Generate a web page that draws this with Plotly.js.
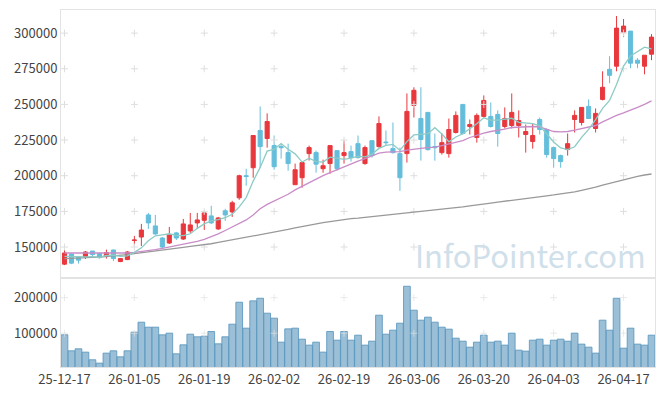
<!DOCTYPE html>
<html>
<head>
<meta charset="utf-8">
<script src="https://cdn.plot.ly/plotly-3.0.1.min.js"></script>
<style>
html,body{margin:0;padding:0;background:#fff;}
#chart{width:665px;height:396px;}
</style>
</head>
<body>
<div id="chart"></div>
<script>
const dates = ['25-12-17','25-12-18','25-12-19','25-12-22','25-12-23','25-12-24','25-12-26','25-12-29','25-12-30',
'26-01-02','26-01-05','26-01-06','26-01-07','26-01-08','26-01-09','26-01-12','26-01-13','26-01-14','26-01-15','26-01-16','26-01-19','26-01-20','26-01-21','26-01-22','26-01-23','26-01-26','26-01-27','26-01-28','26-01-29','26-01-30',
'26-02-02','26-02-03','26-02-04','26-02-05','26-02-06','26-02-09','26-02-10','26-02-11','26-02-12','26-02-13','26-02-19','26-02-20','26-02-23','26-02-24','26-02-25','26-02-26','26-02-27',
'26-03-03','26-03-04','26-03-05','26-03-06','26-03-09','26-03-10','26-03-11','26-03-12','26-03-13','26-03-16','26-03-17','26-03-18','26-03-19','26-03-20','26-03-23','26-03-24','26-03-25','26-03-26','26-03-27','26-03-30','26-03-31',
'26-04-01','26-04-02','26-04-03','26-04-06','26-04-07','26-04-08','26-04-09','26-04-10','26-04-13','26-04-14','26-04-15','26-04-16','26-04-17','26-04-20','26-04-21','26-04-22','26-04-23'];

const opens = [138000,145100,143000,143000,147200,145400,143700,147900,139800,141200,
154600,157000,172500,164800,156300,152800,159900,155600,161300,166900,
168700,171800,162700,175400,174600,184500,200000,205600,231700,226100,
221100,220400,216200,193700,198600,215500,216200,204900,208500,217600,
214100,216900,222500,208500,224600,220400,223600,219000,215500,215500,
249300,240100,244400,220400,216200,215500,230300,250000,234500,226800,
241600,241600,243000,234500,235200,235200,228900,224000,239400,232400,
219700,214100,218300,239400,237300,248600,233100,253500,274600,276800,
300700,301400,281000,276800,285200];
const highs = [147900,145300,143300,147200,147200,146100,148200,148200,142300,147200,
157800,166200,173900,172500,157000,164100,160600,169700,173900,173900,
175400,178900,171100,176800,182400,200700,204900,228200,248600,243700,
228200,222500,222500,208500,209200,221100,217600,211300,221100,217600,
224600,221100,228200,221100,224600,241600,231700,237300,219700,257700,
262000,262000,244400,229600,229600,240100,245100,250000,239400,243700,
256300,251400,245800,247900,257700,245800,235900,236600,240800,233100,
220400,214800,229600,245800,247900,253500,247200,273200,283800,312000,
309900,301400,282400,284500,299300];
const lows = [137300,138000,138400,141600,143700,141900,141900,140100,139400,140800,
151000,150700,162700,158500,149300,152100,154900,154900,159900,162700,
162000,166200,162000,168300,171100,183100,193000,198600,205600,219700,
204200,212000,203500,193700,191600,210600,202100,202100,201400,203500,
208500,209900,212000,207700,212700,219700,221100,215500,189400,209200,
240800,210600,217600,210600,214800,212700,229600,228900,228900,223200,
240800,233800,220400,233100,233100,226800,216200,219000,228900,212700,
205600,205600,214100,230300,235200,239800,230300,252800,264800,273200,
297200,275400,275400,271100,281000];
const closes = [145800,138700,140800,146500,144700,142600,146100,141900,141900,146500,
154900,161900,166900,159200,150000,158500,156300,166200,165500,169000,
173900,166900,170400,172500,181000,200000,199500,228200,220400,238000,
206300,219700,208500,204200,209200,219700,208100,207000,221100,204900,
216200,212700,212700,219700,214100,236600,223200,216200,198600,245100,
259900,225400,218300,219700,223200,232400,242300,229600,235900,242300,
252800,234500,229600,240100,244400,238700,231000,228200,232400,214800,
212000,209900,222500,242300,247900,240100,243700,262000,270400,303500,
304900,278900,278900,284500,297200];
const ma5 = [143500,143200,142900,143100,143300,142660,144140,144360,143440,143800,
146260,149420,154420,157880,158580,159300,158180,158040,159300,163100,
166180,168300,169140,170540,172940,178160,184680,196240,205820,217220,
218480,222520,218580,215340,209580,212260,209940,209640,213020,212160,
211460,212380,213520,213240,215080,219160,221260,221960,217740,223940,
228600,229040,229460,233680,229300,223800,227180,229440,232680,236500,
240580,239020,239020,239860,240280,237460,236760,236480,234940,229020,
223680,219460,218320,220300,226920,232540,239300,247200,252820,263940,
276900,283940,287320,290140,288880];
const ma20 = [145800,145800,145600,145500,145500,145500,145500,145500,145500,145800,
146300,146800,147500,148200,149100,150000,151000,152000,152800,153900,
155300,157000,159200,161600,164100,166600,169000,172500,176800,179900,
182400,184900,187000,190100,192600,195100,197900,200000,202100,204200,
206300,208500,210200,212000,213700,215800,216500,216500,216900,218000,
218800,219200,219700,220100,221100,222200,223600,224600,226800,228500,
229900,231000,231700,232700,233800,234200,234500,234500,234200,232400,
231000,230800,231000,232000,232900,233800,235200,237700,240100,242300,
244000,245800,247900,250000,252500];
const ma60 = [141900,142000,142200,142500,142700,143000,143300,143700,144200,144700,
145400,146100,146800,147500,148100,148600,149200,149800,150400,150900,
151600,152300,153200,154100,154900,155800,156500,157500,158600,159500,
160400,161300,162300,163400,164400,165500,166300,167100,167800,168600,
169300,169900,170300,170800,171300,171800,172300,172900,173400,173900,
174700,175200,175700,176200,176600,176900,177500,178200,178900,179400,
180100,180800,181500,182200,182800,183500,184100,184700,185200,185900,
186500,187100,187900,188700,189800,190800,192000,193400,194700,196100,
197500,198600,199600,200500,201200];
const volumes = [95500,50500,56200,46800,25300,15900,44000,50500,33700,50500,
103000,131000,117000,117000,95500,100200,42100,67400,97300,89900,
91700,104800,70200,89900,125400,187200,114200,191000,198400,156300,
142300,74900,112300,114200,83300,66500,74900,46800,104800,80500,
104800,80500,94500,66500,77700,150700,97300,108600,128200,232100,
164700,136700,145100,131000,117000,111400,86100,77700,60800,74900,
94500,74900,77700,66500,100200,52400,49600,80500,83300,66500,
80500,83300,77700,100200,69300,60800,44000,136700,108600,198400,
58000,114200,69300,66500,94500];
const tickLabels = ['25-12-17','26-01-05','26-01-19','26-02-02','26-02-19','26-03-06','26-03-20','26-04-03','26-04-17'];
const priceTicks = [150000,175000,200000,225000,250000,275000,300000];
const volumeTicks = [100000,200000];

const FONT = '"Noto Sans CJK KR", "Noto Sans", sans-serif';
const LINE = '#e3e3e3';

// grid crosses at tick intersections
const gx1 = [], gy1 = [], gx2 = [], gy2 = [];
tickLabels.forEach(t => {
  priceTicks.forEach(v => { gx1.push(t); gy1.push(v); });
  volumeTicks.forEach(v => { gx2.push(t); gy2.push(v); });
});

const crossMarker = {symbol: 'cross-thin-open', size: 5, line: {color: '#dedede', width: 1}, color: '#dedede'};
const crossMarker2 = {symbol: 'cross-thin-open', size: 5, line: {color: 'rgba(225,225,225,0.7)', width: 1}, color: 'rgba(225,225,225,0.7)'};

const traces = [
  {type: 'scatter', mode: 'markers', x: gx1, y: gy1, xaxis: 'x', yaxis: 'y', marker: crossMarker, hoverinfo: 'skip', showlegend: false},
  {type: 'candlestick', x: dates, open: opens, high: highs, low: lows, close: closes,
   xaxis: 'x', yaxis: 'y', whiskerwidth: 0,
   increasing: {line: {color: '#e8383d', width: 1}, fillcolor: '#e8383d'},
   decreasing: {line: {color: '#64bedb', width: 1}, fillcolor: '#64bedb'},
   showlegend: false, hoverinfo: 'skip'},
  {type: 'scatter', mode: 'lines', x: dates, y: ma60, xaxis: 'x', yaxis: 'y', line: {color: '#999999', width: 1.3}, showlegend: false, hoverinfo: 'skip'},
  {type: 'scatter', mode: 'lines', x: dates, y: ma20, xaxis: 'x', yaxis: 'y', line: {color: '#c98cc8', width: 1.3}, showlegend: false, hoverinfo: 'skip'},
  {type: 'scatter', mode: 'lines', x: dates, y: ma5, xaxis: 'x', yaxis: 'y', line: {color: '#8ccbc6', width: 1.3}, showlegend: false, hoverinfo: 'skip'},
  {type: 'bar', x: dates, y: volumes, xaxis: 'x2', yaxis: 'y2',
   marker: {color: 'rgba(120,170,200,0.75)', line: {color: 'rgba(90,150,190,0.85)', width: 1}},
   showlegend: false, hoverinfo: 'skip'},
  {type: 'scatter', mode: 'markers', x: gx2, y: gy2, xaxis: 'x2', yaxis: 'y2',
   marker: crossMarker2, hoverinfo: 'skip', showlegend: false}
];

const layout = {
  width: 665, height: 396,
  margin: {l: 61, r: 10, t: 10, b: 29},
  paper_bgcolor: '#ffffff', plot_bgcolor: '#ffffff',
  showlegend: false,
  bargap: 0.04,
  boxgap: 0.16,
  font: {family: FONT, size: 13, color: '#444444'},
  xaxis: {domain: [0, 1], anchor: 'y', type: 'category', categoryorder: 'array', categoryarray: dates,
          range: [-0.5, dates.length - 0.5], rangeslider: {visible: false},
          showticklabels: false, showgrid: false, zeroline: false, ticks: '',
          showline: true, mirror: true, linecolor: LINE, linewidth: 1, fixedrange: true},
  yaxis: {domain: [0.249, 1], anchor: 'x', range: [128200, 316200], tickvals: priceTicks,
          ticktext: priceTicks.map(String), showgrid: false, zeroline: false, ticks: '',
          showline: true, mirror: true, linecolor: LINE, linewidth: 1,
          tickfont: {family: FONT, size: 13, color: '#444444'}},
  xaxis2: {domain: [0, 1], anchor: 'y2', type: 'category', categoryorder: 'array', categoryarray: dates,
           range: [-0.5, dates.length - 0.5], tickvals: tickLabels, ticktext: tickLabels,
           showgrid: false, zeroline: false, ticks: '', tickangle: 0,
           showline: true, mirror: true, linecolor: LINE, linewidth: 1,
           tickfont: {family: FONT, size: 13, color: '#444444'}},
  yaxis2: {domain: [0, 0.249], anchor: 'x2', range: [5000, 255000], tickvals: volumeTicks,
           ticktext: volumeTicks.map(String), showgrid: false, zeroline: false, ticks: '',
           showline: true, mirror: true, linecolor: LINE, linewidth: 1,
           tickfont: {family: FONT, size: 13, color: '#444444'}},
  annotations: [{
    text: 'InfoPointer.com', xref: 'paper', yref: 'paper', x: 0.988, y: 0.315,
    xanchor: 'right', yanchor: 'middle', showarrow: false,
    font: {family: FONT, size: 31, color: '#cfe0ea'}
  }]
};

Plotly.newPlot('chart', traces, layout, {staticPlot: true, displayModeBar: false});
</script>
</body>
</html>
